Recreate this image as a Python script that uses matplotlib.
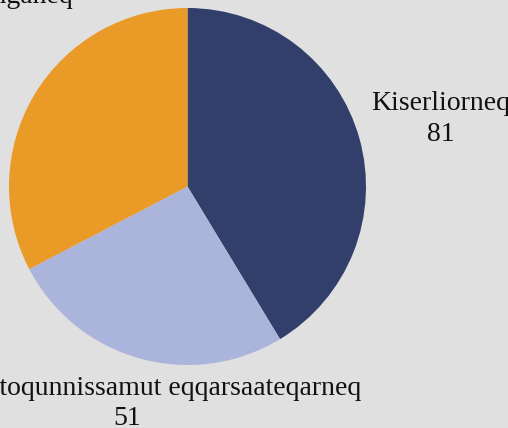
import matplotlib
matplotlib.use('Agg')
import matplotlib.pyplot as plt

# slice data (clockwise from 12 o'clock)
categories = ['Kiserliorneq', 'Imminortoqunnissamut eqqarsaateqarneq', 'Nikallunganeq']
values = [81, 51, 64]
colors = ['#323f6b', '#abb5db', '#ea9a26']

plt.rcParams['font.family'] = ['Liberation Serif', 'DejaVu Serif']

W, H = 508, 428
fig = plt.figure(figsize=(W / 100, H / 100), dpi=100, facecolor='#e0e0e0')
ax = fig.add_axes([0, 0, 1, 1])
ax.set_facecolor('#e0e0e0')

# pie center / radius in pixels (measured from reference)
cx, cy, r = 187.5, 186.5, 178.5

ax.pie(values, colors=colors, startangle=90, counterclock=False,
       wedgeprops=dict(linewidth=0))

ax.set_aspect('auto')
ax.set_xlim(-cx / r, (W - cx) / r)
ax.set_ylim(-(H - cy) / r, cy / r)


def px(x, y):
    # pixel position -> pie data coordinates
    return (x - cx) / r, (cy - y) / r


fs = 20
txt = dict(fontsize=fs, color='#111111')

# Kiserliorneq label (right)
ax.text(*px(441, 110), categories[0], ha='center', va='baseline', **txt)
ax.text(*px(441, 141), str(values[0]), ha='center', va='baseline', **txt)

# bottom label
ax.text(*px(361, 395), categories[1], ha='right', va='baseline', **txt)
ax.text(*px(127, 425), str(values[1]), ha='center', va='baseline', **txt)

# top-left label, mostly outside the canvas
ax.text(*px(73, -27), str(values[2]), ha='right', va='baseline', **txt)
ax.text(*px(73, 3), categories[2], ha='right', va='baseline', **txt)

fig.savefig('out.png', dpi=100, facecolor=fig.get_facecolor())
